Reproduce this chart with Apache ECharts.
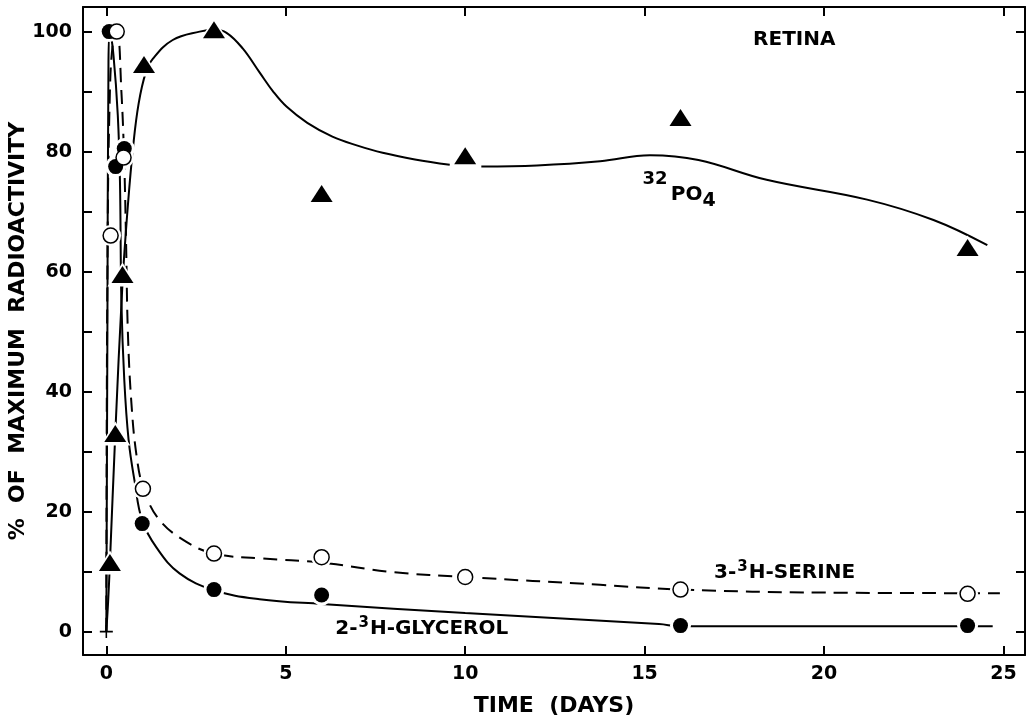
<!DOCTYPE html>
<html>
<head>
<meta charset="utf-8">
<script src="https://cdn.jsdelivr.net/npm/echarts@6/dist/echarts.min.js"></script>
<style>
  html, body { margin: 0; padding: 0; background: #ffffff; }
  #chart { width: 1027px; height: 718px; }
</style>
</head>
<body>
<div id="chart"></div>
<script>
// Measured points: [time (days), % of maximum radioactivity]
const po4Points      = [[0.1, 11.5], [0.25, 33], [0.45, 59.5], [1.05, 94.5], [3, 100.3], [6, 73], [10, 79.3], [16, 85.7], [24, 64]];
const glycerolPoints = [[0.08, 100], [0.26, 77.5], [0.5, 80.5], [1, 18], [3, 7], [6, 6.1], [16, 1], [24, 1]];
const serinePoints   = [[0.12, 66], [0.29, 100], [0.48, 79], [1.02, 23.8], [3, 13], [6, 12.4], [10, 9.1], [16, 7], [24, 6.3]];
const originPoint    = [[0, 0]];

// Hand-fitted curves through each series (null = break in the drawn line)
const po4Curve = [[0, 0], [0.05, 5], [0.1, 11.5], [0.25, 33], [0.45, 58], [0.6, 71], [0.75, 81], [0.9, 88], [1.1, 93.2],
  [1.3, 95.5], [1.85, 98.6], [2.6, 100], [3.0, 100.3], [3.35, 99.8], [3.8, 97.2], [4.27, 93.2], [4.65, 90],
  [5.02, 87.5], [5.6, 84.8], [6.3, 82.5], [7, 81], [7.7, 79.8], [8.6, 78.7], [9.57, 77.8], null,
  [10.45, 77.5], [12, 77.7], [13.76, 78.4], [15.15, 79.4], [16.5, 78.6], [18.4, 75.3], [21.2, 72],
  [23.05, 68.6], [24.55, 64.4]];
const glycerolCurve = [[0, 0], [0.03, 50], [0.06, 95], [0.1, 100], [0.2, 96], [0.32, 86], [0.38, 75], [0.42, 55],
  [0.5, 42], [0.62, 32], [0.79, 25], [1.0, 18.5], [1.4, 14], [2.04, 9.7], [3, 6.9], [4.27, 5.4], [6, 4.6],
  [10, 3.1], [15.4, 1.25], [16, 0.9], [24.7, 0.9]];
const serineCurve = [[0, 0], [0.03, 60], [0.1, 90], [0.2, 99], [0.3, 100], [0.42, 90], [0.5, 78], [0.55, 65],
  [0.6, 50], [0.7, 38], [0.85, 29], [1.05, 23.6], [1.48, 18.6], [2.22, 15], [3, 13], [4.3, 12.2], [6, 11.5],
  [8, 9.9], [10, 9.1], [13.76, 7.8], [16, 7.0], [20, 6.5], [24.9, 6.4]];

// Axis ticks and labels
const xTickValues  = [0, 5, 10, 15, 20, 25];
const yLabelValues = [0, 20, 40, 60, 80, 100];
const yTickValues  = [0, 10, 20, 30, 40, 50, 60, 70, 80, 90, 100];
const xRange = [-0.65, 25.6];
const yRange = [-3.9, 104.1];

// Text annotations and the data positions they sit at
const noteTexts   = ['{b|RETINA}', '{up|32} {b|PO}{dn|4}', '{b|3-}{s|3}{b|H-SERINE}', '{b|2-}{s|3}{b|H-GLYCEROL}'];
const noteAnchors = [[19.17, 98.7], [15.96, 72.8], [18.9, 9.8], [8.79, 0.4]];

const FONT = 'DejaVu Sans';
const INK = '#000000';

const chart = echarts.init(document.getElementById('chart'), null, { renderer: 'canvas' });

const axisLine = { show: true, onZero: false, lineStyle: { color: INK, width: 2 } };
const tickStyle = { color: INK, width: 2 };
const tickText = { fontFamily: FONT, fontSize: 19, fontWeight: 'bold', color: INK };

const lineSeries = (name, data, dashed) => ({
  name, type: 'line', data, smooth: 0.4, connectNulls: false, showSymbol: false, symbol: 'none',
  lineStyle: { color: INK, width: 2, type: dashed ? [14, 8] : 'solid', opacity: 1 }, z: 2, silent: true
});

const halo = (data, symbol, size) => ({
  type: 'scatter', data, symbol, symbolSize: size, itemStyle: { color: '#ffffff', opacity: 1 }, z: 3, silent: true
});

chart.setOption({
  animation: false,
  backgroundColor: '#ffffff',
  grid: { left: 83, right: 2, top: 7, bottom: 63, containLabel: false, outerBoundsMode: 'none' },
  xAxis: [
    {
      type: 'value', min: xRange[0], max: xRange[1], position: 'bottom',
      name: 'TIME  (DAYS)', nameLocation: 'middle', nameGap: 40, nameMoveOverlap: false,
      nameTextStyle: { fontFamily: FONT, fontSize: 22, fontWeight: 'bold', color: INK, verticalAlign: 'top' },
      axisLine,
      axisTick: { show: true, inside: true, length: 9, customValues: xTickValues, lineStyle: tickStyle },
      axisLabel: Object.assign({ customValues: xTickValues, margin: 10 }, tickText),
      splitLine: { show: false }
    },
    {
      type: 'value', min: xRange[0], max: xRange[1], position: 'top',
      axisLine,
      axisTick: { show: true, inside: true, length: 9, customValues: xTickValues, lineStyle: tickStyle },
      axisLabel: { show: false },
      splitLine: { show: false }
    }
  ],
  yAxis: [
    {
      type: 'value', min: yRange[0], max: yRange[1], position: 'left',
      name: '%  OF  MAXIMUM  RADIOACTIVITY', nameLocation: 'middle', nameGap: 54, nameRotate: 90,
      nameMoveOverlap: false,
      nameTextStyle: { fontFamily: FONT, fontSize: 22, fontWeight: 'bold', color: INK },
      axisLine,
      axisTick: { show: true, inside: true, length: 9, customValues: yTickValues, lineStyle: tickStyle },
      axisLabel: Object.assign({ customValues: yLabelValues, margin: 11 }, tickText),
      splitLine: { show: false }
    },
    {
      type: 'value', min: yRange[0], max: yRange[1], position: 'right',
      axisLine,
      axisTick: { show: true, inside: true, length: 9, customValues: yTickValues, lineStyle: tickStyle },
      axisLabel: { show: false },
      splitLine: { show: false }
    }
  ],
  series: [
    lineSeries('32PO4 curve', po4Curve, false),
    lineSeries('2-3H-glycerol curve', glycerolCurve, false),
    lineSeries('3-3H-serine curve', serineCurve, true),
    halo(po4Points, 'triangle', [30, 24]),
    halo(glycerolPoints, 'circle', 21),
    halo(serinePoints, 'circle', 21),
    {
      name: '32PO4', type: 'scatter', data: po4Points, symbol: 'triangle', symbolSize: [22, 17],
      itemStyle: { color: INK, opacity: 1 }, z: 4
    },
    {
      name: '2-3H-glycerol', type: 'scatter', data: glycerolPoints, symbol: 'circle', symbolSize: 15,
      itemStyle: { color: INK, opacity: 1 }, z: 5
    },
    {
      name: '3-3H-serine', type: 'scatter', data: serinePoints, symbol: 'circle', symbolSize: 15,
      itemStyle: { color: '#ffffff', borderColor: INK, borderWidth: 1.5, opacity: 1 }, z: 6
    },
    {
      name: 'origin', type: 'scatter', data: originPoint,
      symbol: 'path://M0,4.4h10v1.2h-10zM4.4,0h1.2v10h-1.2z', symbolSize: 13,
      itemStyle: { color: INK, opacity: 1 }, z: 6
    },
    {
      name: 'notes', type: 'scatter', symbolSize: 0, z: 7, silent: true,
      itemStyle: { opacity: 1 },
      data: noteAnchors.map((p, i) => ({ value: p, label: { formatter: noteTexts[i] } })),
      label: {
        show: true, position: 'inside', color: INK, opacity: 1,
        rich: {
          b:  { fontFamily: FONT, fontSize: 20, fontWeight: 'bold', color: INK },
          s:  { fontFamily: FONT, fontSize: 15, fontWeight: 'bold', color: INK, padding: [0, 1, 12, 1] },
          up: { fontFamily: FONT, fontSize: 18, fontWeight: 'bold', color: INK, padding: [0, 0, 30, 0] },
          dn: { fontFamily: FONT, fontSize: 19, fontWeight: 'bold', color: INK, padding: [12, 0, 0, 0] }
        }
      }
    }
  ]
});
</script>
</body>
</html>
